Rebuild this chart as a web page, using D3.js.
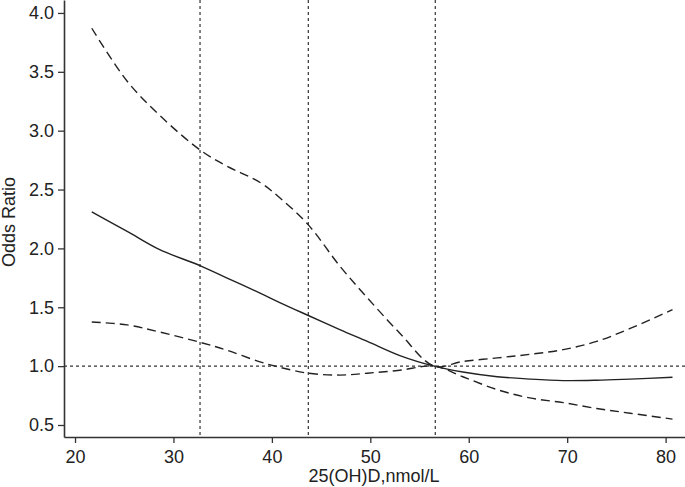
<!DOCTYPE html>
<head>
<meta charset="utf-8">
<style>
body { margin: 0; background: #fff; }
text { font-family: "Liberation Sans", Arial, sans-serif; fill: #222; }
.curve { fill: none; stroke: #222; stroke-width: 1.4px; }
.ref { stroke: #333; stroke-width: 1.2px; stroke-dasharray: 3,3; }
</style>
<body>
<script src="https://cdn.jsdelivr.net/npm/d3@7"></script>
<script>

var vitD = [21.7, 25.3, 28.6, 32.8, 35.4, 38.8, 40.8, 43.7, 46.9, 49.7, 53, 56.5,
            59.4, 62.9, 66.2, 69.6, 73, 76.4, 80.7];
var oddsRatio = [2.31, 2.145, 1.99, 1.85, 1.75, 1.62, 1.54, 1.43, 1.31, 1.21, 1.09, 1.0,
                 0.95, 0.91, 0.89, 0.877, 0.88, 0.89, 0.905];
var upperCI = [3.87, 3.42, 3.13, 2.83, 2.70, 2.56, 2.43, 2.20, 1.85, 1.58, 1.28, 1.0,
               1.04, 1.07, 1.10, 1.14, 1.21, 1.32, 1.48];
var lowerCI = [1.375, 1.35, 1.29, 1.20, 1.136, 1.036, 0.99, 0.94, 0.924, 0.94, 0.965, 1.0,
               0.91, 0.80, 0.73, 0.69, 0.64, 0.60, 0.55];
var knots = [32.7, 43.7, 56.6];
var xTicks = [20, 30, 40, 50, 60, 70, 80];
var yTicks = [0.5, 1.0, 1.5, 2.0, 2.5, 3.0, 3.5, 4.0];

var W = 685, H = 487;
var left = 64, bottom = 437;

var x = d3.scaleLinear().domain([18.88, 81.97]).range([left, W]);
var y = d3.scaleLinear().domain([0.398, 4.11]).range([bottom, 0]);

var svg = d3.select("body").append("svg")
    .attr("width", W)
    .attr("height", H);

// reference lines
svg.append("line").attr("class", "ref")
    .attr("x1", left).attr("x2", W)
    .attr("y1", y(1)).attr("y2", y(1));
knots.forEach(function(k) {
  svg.append("line").attr("class", "ref")
      .attr("x1", x(k)).attr("x2", x(k))
      .attr("y1", 0).attr("y2", bottom);
});

var line = function(vals) {
  return d3.line()
      .x(function(d, i) { return x(vitD[i]); })
      .y(function(d) { return y(d); })
      .curve(d3.curveCatmullRom)(vals);
};

svg.append("path").attr("class", "curve").attr("d", line(oddsRatio));
svg.append("path").attr("class", "curve").attr("d", line(upperCI))
    .style("stroke-dasharray", "9,5");
svg.append("path").attr("class", "curve").attr("d", line(lowerCI))
    .style("stroke-dasharray", "9,5");

// axes
var xAxis = svg.append("g")
    .attr("transform", "translate(0," + bottom + ")")
    .call(d3.axisBottom(x).tickValues(xTicks).tickSize(6).tickPadding(7).tickSizeOuter(0));
var yAxis = svg.append("g")
    .attr("transform", "translate(" + left + ",0)")
    .call(d3.axisLeft(y).tickValues(yTicks).tickFormat(d3.format(".1f")).tickSize(6).tickPadding(4).tickSizeOuter(0));

[xAxis, yAxis].forEach(function(a) {
  a.select(".domain").attr("stroke", "#333").attr("stroke-width", 1.6);
  a.selectAll(".tick line").attr("stroke", "#333").attr("stroke-width", 1.3);
  a.selectAll("text").style("font-size", "18px").attr("fill", "#222");
});

svg.append("text")
    .attr("x", 374).attr("y", 482)
    .attr("text-anchor", "middle")
    .style("font-size", "18px")
    .text("25(OH)D,nmol/L");

svg.append("text")
    .attr("transform", "translate(15,222) rotate(-90)")
    .attr("text-anchor", "middle")
    .style("font-size", "18px")
    .text("Odds Ratio");

</script>
</body>
